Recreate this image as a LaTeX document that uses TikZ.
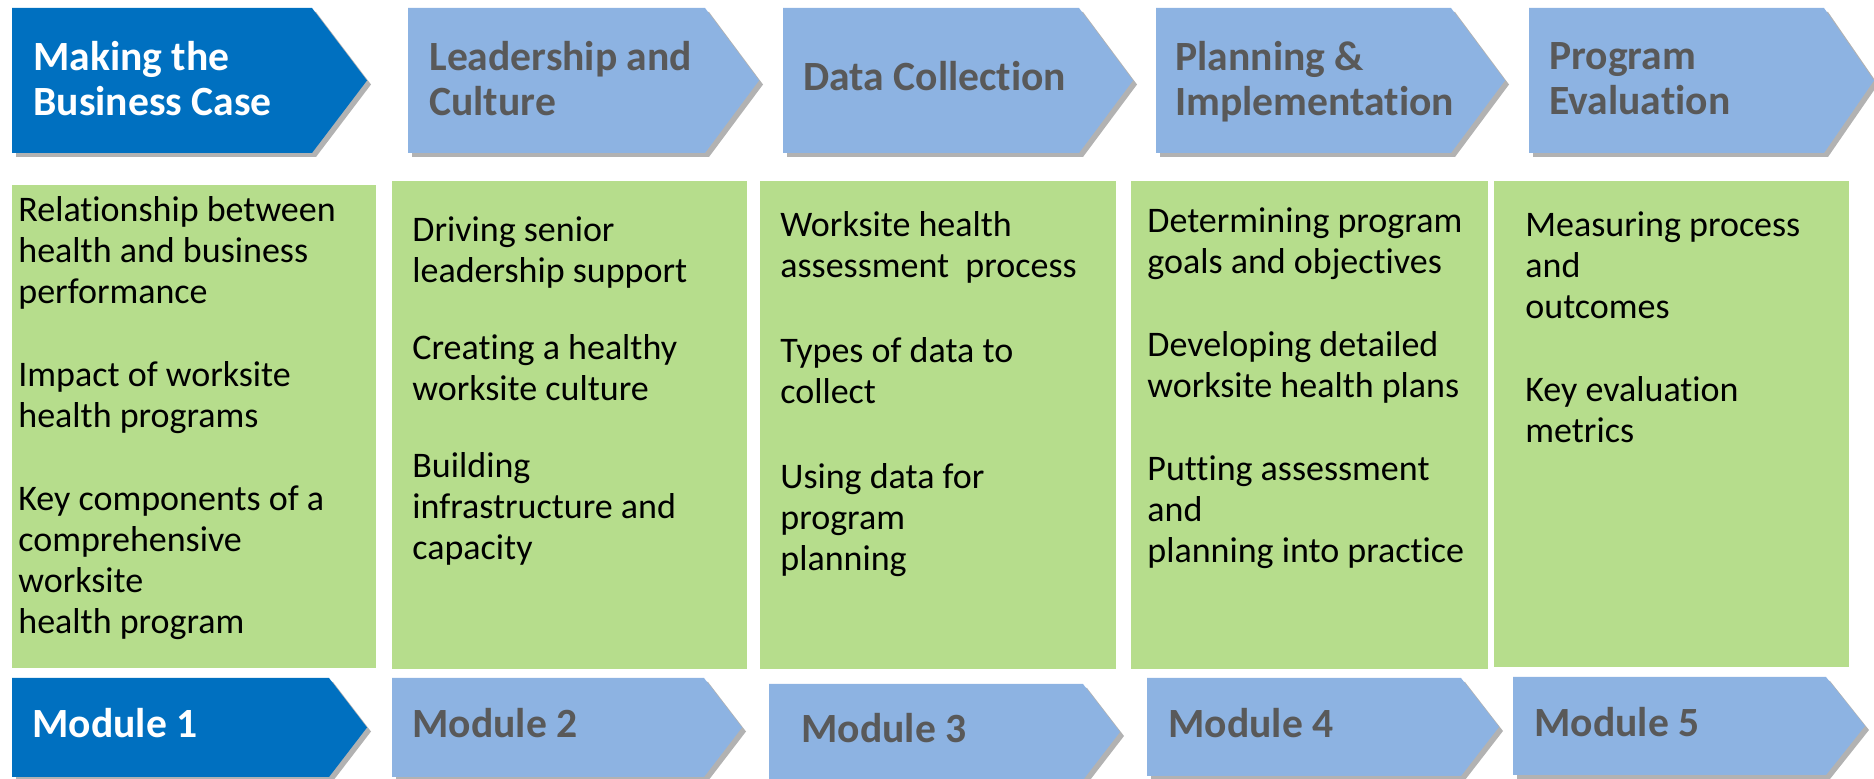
\documentclass[tikz,border=0pt]{standalone}
\usepackage{fontspec}
\setmainfont{Carlito}[Ligatures=NoCommon]
\usetikzlibrary{shadows}

\definecolor{moddark}{HTML}{0070C0}
\definecolor{modlight}{HTML}{8DB3E2}
\definecolor{topicgreen}{HTML}{B6DD8C}
\definecolor{headgrey}{HTML}{595959}

\tikzset{
  chevshadow/.style={drop shadow={shadow xshift=2pt,shadow yshift=-2pt,fill=black,opacity=0.3}},
  darkchev/.style={fill=moddark,chevshadow},
  lightchev/.style={fill=modlight,chevshadow},
  topicbox/.style={fill=topicgreen},
  headtext/.style={anchor=north west,inner sep=0pt,align=left,text=headgrey,
    font=\bfseries\fontsize{20.8}{22.5}\selectfont},
  modtext/.style={anchor=base west,inner sep=0pt,text=headgrey,
    font=\bfseries\fontsize{20.8}{22.5}\selectfont},
  bodytext/.style={anchor=north west,inner sep=0pt,align=left,
    font=\fontsize{18}{20.5}\selectfont},
}

% chevron: left x, top y, width, height, tip length, style
\newcommand{\chev}[6]{%
  \fill[#6] (#1,#2) -- ++(#3-#5,0) -- ++(#5,#4/2) -- ++(-#5,#4/2) -- ++(#5-#3,0) -- cycle;}

\begin{document}
\begin{tikzpicture}[x=0.5pt,y=-0.5pt]
        \useasboundingbox (0,0) rectangle (1874,779);
        % top row
        \chev{12}{8}{355}{145}{55}{darkchev}
        \chev{408}{8}{351}{145}{54}{lightchev}
        \chev{783}{8}{350}{145}{54}{lightchev}
        \chev{1156}{8}{349}{145}{54}{lightchev}
        \chev{1529}{8}{345}{145}{50}{lightchev}
        \node[headtext,text=white](h1) at (33,41) {Making the\\Business Case};
        \node[headtext](h2) at (429,41) {Leadership and\\Culture};
        \node[modtext](h3) at (803,91) {Data Collection};
        \node[headtext](h4) at (1175,41) {Planning \&\\Implementation};
        \node[headtext](h5) at (1549,42) {Program\\Evaluation};
        % topic boxes
        \fill[topicbox] (12,185) rectangle (376,668);
        \fill[topicbox] (392,181) rectangle (747,669);
        \fill[topicbox] (760,181) rectangle (1116,669);
        \fill[topicbox] (1131,181) rectangle (1488,669);
        \fill[topicbox] (1494,181) rectangle (1849,667);
        \node[bodytext](t1) at (18,196) {Relationship between\\health and business\\performance\\[21pt]
            Impact of worksite\\health programs\\[21pt]
            Key components of a\\comprehensive\\worksite\\health program};
        \node[bodytext](t2) at (412,216) {Driving senior\\leadership support\\[18pt]
            Creating a healthy\\worksite culture\\[18pt]
            Building\\infrastructure and\\capacity};
        \node[bodytext](t3) at (780,211) {Worksite health\\assessment\ \ process\\[22pt]
            Types of data to\\collect\\[22pt]
            Using data for\\program\\planning};
        \node[bodytext](t4) at (1147,207) {Determining program\\goals and objectives\\[21pt]
            Developing detailed\\worksite health plans\\[21pt]
            Putting assessment\\and\\planning into practice};
        \node[bodytext](t5) at (1525,211) {Measuring process\\and\\outcomes\\[21pt]
            Key evaluation\\metrics};
        % bottom row
        \chev{12}{678}{355}{99}{38}{darkchev}
        \chev{392}{678}{350}{99}{38}{lightchev}
        \chev{769}{684}{351}{96}{37}{lightchev}
        \chev{1147}{678}{352}{98}{38}{lightchev}
        \chev{1513}{677}{352}{98}{39}{lightchev}
        \node[modtext,text=white](m1) at (32,738) {Module 1};
        \node[modtext](m2) at (412,738) {Module 2};
        \node[modtext](m3) at (801,743) {Module 3};
        \node[modtext](m4) at (1168,738) {Module 4};
        \node[modtext](m5) at (1534,737) {Module 5};
        \end{tikzpicture}
\end{document}
